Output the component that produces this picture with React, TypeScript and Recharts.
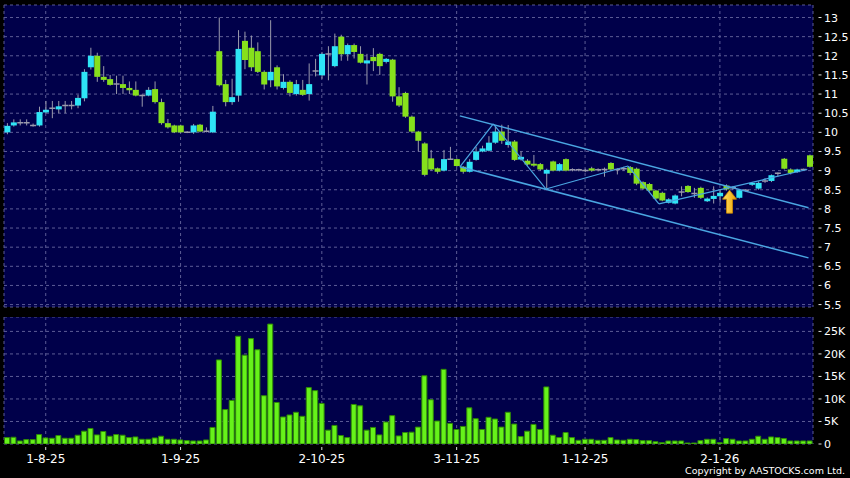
import React from "react";
import { ComposedChart, Bar, XAxis, YAxis, CartesianGrid, ReferenceLine, ReferenceDot } from "recharts";

// daily OHLC (oldest first)
const OPEN = [
  10.0, 10.18, 10.25, 10.25, 10.18, 10.18, 10.52, 10.63, 10.6, 10.7, 10.7, 10.7, 10.89, 11.7, 12.0, 11.45, 11.39, 11.26, 11.26, 11.16,
  11.11, 10.96, 10.96, 11.13, 10.79, 10.24, 10.18, 10.18, 10.0, 10.0, 10.2, 10.03, 10.0, 12.12, 11.26, 10.79, 10.96, 12.39, 12.21, 12.12,
  11.58, 11.36, 11.7, 11.16, 11.32, 11.0, 11.11, 11.0, 11.6, 11.49, 12.05, 11.73, 12.5, 12.04, 12.28, 12.05, 11.8, 11.97, 12.05, 11.84,
  11.9, 10.94, 11.03, 10.41, 10.02, 9.71, 9.32, 9.06, 9.0, 9.3, 9.3, 9.1, 8.97, 9.28, 9.5, 9.52, 9.73, 10.02, 9.67, 9.76,
  9.29, 9.26, 9.18, 9.17, 8.92, 9.24, 9.0, 9.3, 9.02, 9.02, 9.0, 9.06, 9.02, 9.03, 9.2, 9.03, 9.05, 9.09, 9.05, 8.7,
  8.65, 8.48, 8.42, 8.16, 8.14, 8.44, 8.6, 8.4, 8.55, 8.2, 8.26, 8.33, 8.61, 8.55, 8.29, 8.49, 8.63, 8.53, 8.73, 8.73,
  8.93, 9.31, 9.03, 8.96, 9.03, 9.4,
];
const HIGH = [
  10.24, 10.34, 10.34, 10.34, 10.23, 10.67, 10.82, 10.82, 10.82, 10.82, 10.82, 10.98, 11.65, 12.21, 12.08, 11.73, 11.5, 11.48, 11.48, 11.33,
  11.33, 10.99, 11.18, 11.33, 10.88, 10.35, 10.2, 10.2, 10.03, 10.22, 10.22, 10.13, 10.69, 13.0, 11.37, 11.4, 12.67, 12.63, 12.53, 12.35,
  11.62, 12.93, 11.75, 11.52, 11.36, 11.37, 11.37, 11.8, 11.92, 12.1, 12.25, 12.58, 12.55, 12.32, 12.32, 12.25, 12.05, 12.2, 12.08, 11.94,
  11.92, 11.18, 11.06, 10.44, 10.04, 9.74, 9.54, 9.08, 9.54, 9.62, 9.32, 9.12, 9.3, 9.62, 9.65, 9.9, 10.15, 10.2, 10.19, 9.8,
  9.5, 9.3, 9.41, 9.2, 9.05, 9.26, 9.2, 9.32, 9.06, 9.05, 9.05, 9.1, 9.06, 9.08, 9.22, 9.06, 9.1, 9.12, 9.08, 8.72,
  8.68, 8.5, 8.45, 8.28, 8.38, 8.59, 8.62, 8.55, 8.58, 8.3, 8.59, 8.51, 8.64, 8.6, 8.52, 8.52, 8.7, 8.72, 8.8, 8.9,
  8.95, 9.33, 9.06, 9.05, 9.05, 9.42,
];
const LOW = [
  9.95, 10.15, 10.18, 10.18, 10.15, 10.15, 10.5, 10.37, 10.5, 10.5, 10.6, 10.63, 10.81, 11.64, 11.32, 11.32, 11.22, 11.0, 11.0, 11.0,
  10.94, 10.67, 10.94, 10.75, 10.2, 10.1, 9.98, 9.98, 9.98, 9.96, 10.0, 10.0, 9.98, 11.2, 10.68, 10.72, 10.8, 11.65, 11.6, 11.55,
  11.12, 11.18, 11.12, 11.12, 10.94, 10.96, 10.95, 10.83, 11.46, 11.4, 11.36, 11.7, 11.87, 11.87, 11.93, 11.8, 11.25, 11.6, 11.5, 11.8,
  10.8, 10.66, 10.38, 9.98, 9.5, 8.85, 9.0, 8.92, 8.98, 9.28, 9.1, 8.92, 8.95, 9.26, 9.48, 9.5, 9.7, 9.7, 9.6, 9.25,
  9.26, 9.13, 9.1, 9.0, 8.54, 8.98, 8.98, 8.98, 8.98, 8.98, 8.96, 8.97, 8.98, 8.84, 9.0, 8.9, 9.0, 8.88, 8.62, 8.5,
  8.45, 8.24, 8.2, 8.14, 8.12, 8.33, 8.42, 8.29, 8.26, 8.18, 8.14, 8.16, 8.48, 8.5, 8.27, 8.45, 8.6, 8.5, 8.68, 8.7,
  8.85, 9.03, 8.9, 8.94, 9.0, 9.08,
];
const CLOSE = [
  10.17, 10.26, 10.25, 10.25, 10.18, 10.53, 10.59, 10.63, 10.68, 10.7, 10.7, 10.9, 11.58, 12.0, 11.45, 11.37, 11.24, 11.26, 11.16, 11.1,
  10.96, 10.96, 11.11, 10.79, 10.24, 10.13, 10.0, 10.0, 10.0, 10.18, 10.02, 10.03, 10.54, 11.23, 10.79, 10.92, 12.18, 11.89, 11.7, 11.58,
  11.25, 11.58, 11.2, 11.32, 11.03, 11.26, 10.98, 11.26, 11.6, 12.05, 12.05, 12.25, 12.04, 12.28, 12.1, 11.82, 11.88, 11.86, 11.73, 11.92,
  10.94, 10.7, 10.41, 10.02, 9.78, 8.89, 9.03, 8.97, 9.3, 9.3, 9.12, 8.97, 9.23, 9.5, 9.58, 9.73, 10.02, 9.78, 9.76, 9.28,
  9.36, 9.16, 9.13, 9.03, 9.02, 9.0, 9.17, 9.0, 9.02, 9.02, 9.0, 9.0, 9.02, 9.03, 9.03, 9.03, 9.05, 8.94, 8.66, 8.53,
  8.48, 8.27, 8.22, 8.25, 8.35, 8.44, 8.44, 8.4, 8.29, 8.27, 8.34, 8.42, 8.51, 8.55, 8.49, 8.49, 8.68, 8.68, 8.73, 8.88,
  8.93, 9.05, 8.94, 9.03, 9.03, 9.1,
];
const VOLUME = [
  1425, 1500, 675, 975, 975, 2100, 1350, 1275, 1875, 1275, 1275, 1950, 2850, 3450, 2025, 2775, 1725, 2100, 1950, 1425,
  1575, 1050, 1050, 1350, 1725, 1050, 1050, 900, 750, 675, 675, 900, 3675, 18675, 7650, 9675, 23925, 19725, 23400, 20925,
  10725, 26625, 9225, 6000, 6450, 7050, 6150, 12525, 11850, 9000, 3075, 4125, 1875, 1425, 8775, 8475, 3075, 3675, 2025, 4875,
  6300, 1800, 2550, 2625, 3750, 15150, 9825, 5100, 16575, 4575, 3225, 3900, 8025, 5625, 3225, 5925, 5550, 3750, 7050, 4425,
  1650, 2850, 4350, 3225, 12675, 1950, 1425, 2550, 1425, 825, 1050, 1050, 825, 825, 1425, 900, 825, 1050, 975, 750,
  750, 525, 300, 675, 675, 675, 225, 225, 750, 1050, 1050, 300, 1200, 1050, 675, 675, 1050, 1725, 1050, 1575,
  1425, 1200, 675, 675, 675, 675,
];

const TICK_IDX = [6, 27, 49, 70, 90, 111];
const TICK_LABELS = ["1-8-25", "1-9-25", "2-10-25", "3-11-25", "1-12-25", "2-1-26"];
const PRICE_TICKS = [5.5, 6, 6.5, 7, 7.5, 8, 8.5, 9, 9.5, 10, 10.5, 11, 11.5, 12, 12.5, 13];
const VOL_TICKS = [0, 5000, 10000, 15000, 20000, 25000];

// drawn annotations: [bar index, price]
const CHANNEL_UPPER = [[70.5, 10.43], [124.8, 8.03]];
const CHANNEL_LOWER = [[70.5, 9.1], [124.8, 6.72]];
const ZIGZAG = [[70.5, 9.1], [75.7, 10.22], [83.9, 8.52], [96.7, 9.12], [101.5, 8.13], [124.6, 9.03]];
const ARROW_AT = [112.5, 8.49];

const rows = OPEN.map((o, i) => ({ i, o, h: HIGH[i], l: LOW[i], c: CLOSE[i], v: VOLUME[i] }));

const BG = "#00004a";
const GRID = "#5c5c96";
const UP = "#2ee4f6";
const DOWN = "#86e01c";
const WICK = "#9a9aac";
const TREND = "#4aa6e2";
const FONT = "DejaVu Sans";

function Candle(props: any) {
  const { x, y, width, height, payload } = props;
  const { o, h, l, c } = payload;
  const ppu = height / (h - l);
  const py = (p: number) => y + (h - p) * ppu;
  const cx = x + width / 2;
  const top = py(Math.max(o, c));
  const bot = py(Math.min(o, c));
  return (
    <g>
      <line x1={cx} x2={cx} y1={y} y2={y + height} stroke={WICK} strokeWidth={1} />
      {o === c ? (
        <line x1={x} x2={x + width} y1={top} y2={top} stroke={WICK} strokeWidth={1.5} />
      ) : (
        <rect x={x} y={top} width={width} height={Math.max(bot - top, 1)} fill={c > o ? UP : DOWN} />
      )}
    </g>
  );
}

function Arrow(props: any) {
  const { cx, cy } = props;
  const pts = [
    [0, 0], [7, 9], [3, 9], [3, 23], [-3, 23], [-3, 9], [-7, 9],
  ].map(([dx, dy]) => `${cx + dx},${cy + dy}`).join(" ");
  return (
    <g>
      <defs>
        <linearGradient id="arrowFill" x1="0" y1="0" x2="1" y2="0">
          <stop offset="0%" stopColor="#ffe46a" />
          <stop offset="100%" stopColor="#f0a000" />
        </linearGradient>
      </defs>
      <polygon points={pts} fill="url(#arrowFill)" stroke="#d08a00" strokeWidth={0.8} />
    </g>
  );
}

function RightTick(props: any) {
  const { x, y, payload, fmt } = props;
  return (
    <g>
      <line x1={x + 5.5} x2={x + 8.5} y1={y} y2={y} stroke="#e0e0e0" />
      <text x={x + 11} y={y} dy={4} fill="#ffffff" fontSize={11} fontFamily={FONT}>
        {fmt(payload.value)}
      </text>
    </g>
  );
}

function DateTick(props: any) {
  const { x, y, payload } = props;
  const k = TICK_IDX.indexOf(payload.value);
  return (
    <g>
      <line x1={x} x2={x} y1={y + 3} y2={y + 6} stroke="#e0e0e0" />
      <text x={x} y={y + 18.5} textAnchor="middle" fill="#ffffff" fontSize={12} fontFamily={FONT}>
        {TICK_LABELS[k]}
      </text>
    </g>
  );
}

const fmtPrice = (v: number) => String(v);
const fmtVol = (v: number) => (v === 0 ? "0" : `${v / 1000}K`);

export default function App() {
  return (
    <div style={{ position: "absolute", left: 0, top: 0, width: 850, height: 478, background: "#000", overflow: "hidden" }}>
      <div style={{ position: "absolute", left: 0, top: 0 }}>
        <ComposedChart width={850} height={312} data={rows} margin={{ top: 5, right: 0, bottom: 5, left: 4 }} barCategoryGap={0.4}>
          <CartesianGrid fill={BG} stroke={GRID} strokeDasharray="3 3" />
          <XAxis dataKey="i" type="category" ticks={TICK_IDX} interval={0} hide />
          <XAxis xAxisId="n" dataKey="i" type="number" domain={[-0.5, 125.5]} allowDataOverflow hide />
          <YAxis
            orientation="right"
            width={37}
            domain={[5.437, 13.327]}
            allowDataOverflow
            ticks={PRICE_TICKS}
            interval={0}
            axisLine={false}
            tickLine={false}
            tickSize={0}
            tickMargin={0}
            tick={(p: any) => <RightTick {...p} fmt={fmtPrice} />}
          />
          <Bar dataKey={(d: any) => [d.l, d.h]} isAnimationActive={false} shape={(p: any) => <Candle {...p} />} />
          <ReferenceLine
            xAxisId="n"
            segment={CHANNEL_UPPER.map(([x, y]) => ({ x, y }))}
            stroke={TREND}
            strokeWidth={1.5}
            ifOverflow="visible"
          />
          <ReferenceLine
            xAxisId="n"
            segment={CHANNEL_LOWER.map(([x, y]) => ({ x, y }))}
            stroke={TREND}
            strokeWidth={1.5}
            ifOverflow="visible"
          />
          {ZIGZAG.slice(1).map((pt, k) => (
            <ReferenceLine
              key={k}
              xAxisId="n"
              segment={[{ x: ZIGZAG[k][0], y: ZIGZAG[k][1] }, { x: pt[0], y: pt[1] }]}
              stroke={TREND}
              strokeWidth={1.2}
              ifOverflow="visible"
            />
          ))}
          <ReferenceDot xAxisId="n" x={ARROW_AT[0]} y={ARROW_AT[1]} ifOverflow="visible" shape={(p: any) => <Arrow {...p} />} />
        </ComposedChart>
      </div>
      <div style={{ position: "absolute", left: 0, top: 317 }}>
        <ComposedChart width={850} height={161} data={rows} margin={{ top: 0, right: 0, bottom: 0, left: 4 }} barCategoryGap={0.5}>
          <CartesianGrid fill={BG} stroke={GRID} strokeDasharray="3 3" />
          <XAxis
            dataKey="i"
            type="category"
            ticks={TICK_IDX}
            interval={0}
            height={34}
            axisLine={false}
            tickLine={false}
            tickSize={0}
            tickMargin={0}
            tick={(p: any) => <DateTick {...p} />}
          />
          <YAxis
            orientation="right"
            width={37}
            domain={[0, 28200]}
            allowDataOverflow
            ticks={VOL_TICKS}
            interval={0}
            axisLine={false}
            tickLine={false}
            tickSize={0}
            tickMargin={0}
            tick={(p: any) => <RightTick {...p} fmt={fmtVol} />}
          />
          <Bar dataKey="v" fill="#66f21a" stroke="#2f8a05" strokeWidth={1} isAnimationActive={false} />
        </ComposedChart>
      </div>
      <div
        style={{
          position: "absolute",
          right: 5,
          top: 466,
          fontFamily: FONT,
          fontSize: 9.5,
          lineHeight: "10px",
          color: "#fff",
          whiteSpace: "nowrap",
        }}
      >
        Copyright by AASTOCKS.com Ltd.
      </div>
    </div>
  );
}
